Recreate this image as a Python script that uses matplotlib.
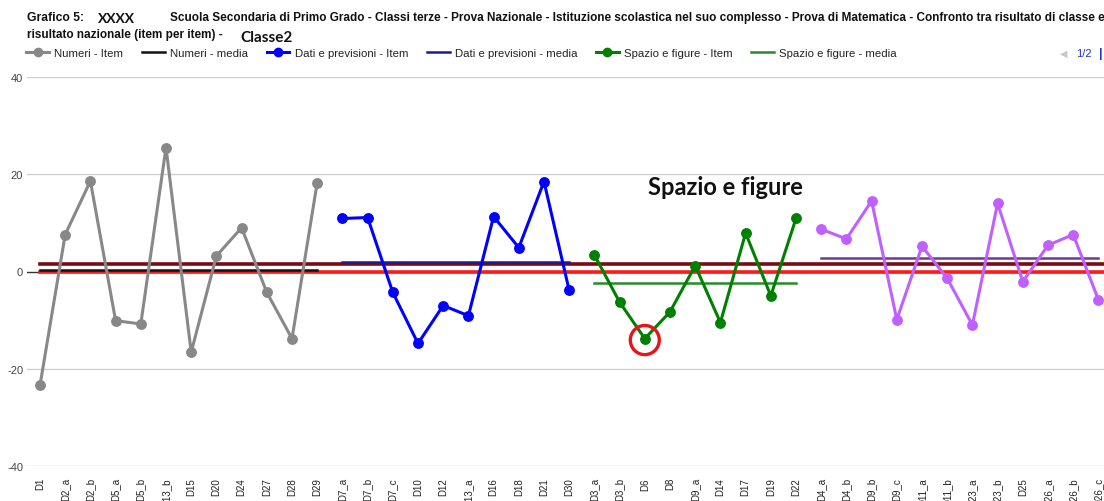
import matplotlib
matplotlib.use('Agg')
import matplotlib.pyplot as plt
from matplotlib.lines import Line2D
from matplotlib.patches import Ellipse
import numpy as np

# item per ambito
numeri_items = ['D1', 'D2_a', 'D2_b', 'D5_a', 'D5_b', 'D13_b', 'D15', 'D20', 'D24', 'D27', 'D28', 'D29']
numeri_values = [-23.4, 7.6, 18.6, -10.1, -10.8, 25.5, -16.6, 3.2, 9.0, -4.3, -13.8, 18.3]
numeri_media = 0.4

dati_items = ['D7_a', 'D7_b', 'D7_c', 'D10', 'D12', 'D13_a', 'D16', 'D18', 'D21', 'D30']
dati_values = [10.9, 11.1, -4.3, -14.8, -7.0, -9.1, 11.3, 4.9, 18.5, -3.9]
dati_media = 1.9

spazio_items = ['D3_a', 'D3_b', 'D6', 'D8', 'D9_a', 'D14', 'D17', 'D19', 'D22']
spazio_values = [3.4, -6.3, -13.8, -8.3, 1.2, -10.5, 7.9, -5.0, 10.9]
spazio_media = -2.3

relazioni_items = ['D4_a', 'D4_b', 'D9_b', 'D9_c', 'D11_a', 'D11_b', 'D23_a', 'D23_b', 'D25', 'D26_a', 'D26_b', 'D26_c']
relazioni_values = [8.7, 6.7, 14.5, -9.9, 5.2, -1.4, -11.0, 14.0, -2.1, 5.4, 7.6, -5.8]
relazioni_media = 2.7

media_scuola = 1.6
media_nazionale = 0.0

y_ticks = [-40, -20, 0, 20, 40]

groups = [
    ('Numeri', numeri_items, numeri_values, numeri_media, '#888888', '#111111'),
    ('Dati e previsioni', dati_items, dati_values, dati_media, '#0000ff', '#1c1c8c'),
    ('Spazio e figure', spazio_items, spazio_values, spazio_media, '#008000', '#2a8a2a'),
    ('Relazioni e funzioni', relazioni_items, relazioni_values, relazioni_media, '#c060ff', '#6a3a9a'),
]

plt.rcParams['font.family'] = ['Liberation Sans', 'DejaVu Sans']

fig = plt.figure(figsize=(11.04, 5.02), dpi=100)
ax = fig.add_axes([27.4 / 1104, 35 / 502, 1083.6 / 1104, 389 / 502])

all_items = numeri_items + dati_items + spazio_items + relazioni_items
n = len(all_items)

ax.set_xlim(-0.5, n - 0.5)
ax.set_ylim(-40, 40)
for yt in y_ticks:
    ax.axhline(yt, color='#333333' if yt == 0 else '#d0d0d0', lw=1, zorder=1)

ax.plot([0, n - 0.5], [media_scuola] * 2, color='#7a0a14', lw=2.6, zorder=3)
ax.plot([0, n - 0.5], [media_nazionale] * 2, color='#ff1a1a', lw=2.6, zorder=3)

handles = []
start = 0
for name, items, values, media, c_item, c_media in groups:
    x = np.arange(start, start + len(items))
    ax.plot(x, values, color=c_item, lw=2.2, marker='o', ms=6.8, zorder=4)
    ax.plot([x[0], x[-1]], [media, media], color=c_media, lw=1.8, zorder=3.5)
    if name != 'Relazioni e funzioni':
        handles.append(Line2D([], [], color=c_item, lw=2.2, marker='o', ms=6, label=f'{name} - Item'))
        handles.append(Line2D([], [], color=c_media, lw=1.8, label=f'{name} - media'))
    start += len(items)

# cerchio sul punto D6
i6 = all_items.index('D6')
ax.add_patch(Ellipse((i6, spazio_values[spazio_items.index('D6')] - 0.3), 1.15, 6.0,
                     fill=False, edgecolor='#e8141c', lw=2.4, zorder=6))
ax.text(27.2, 17.4, 'Spazio e figure', fontsize=17, fontweight='bold', family='Lato',
        ha='center', va='center', color='#111111', zorder=6)

ax.set_xticks(range(n))
ax.set_xticklabels(all_items, rotation=90, fontsize=7, color='#222222')
ax.set_yticks(y_ticks)
ax.set_yticklabels([str(v) for v in y_ticks], fontsize=8, color='#444444')
ax.tick_params(axis='x', length=0, pad=8)
ax.tick_params(axis='y', length=0, pad=3)
for s in ax.spines.values():
    s.set_visible(False)

leg = fig.legend(handles=handles, ncol=6, loc='center left', bbox_to_anchor=(16 / 1104, 1 - 54 / 502),
                 frameon=False, fontsize=8.2, handlelength=2.0, handletextpad=0.45, columnspacing=1.65,
                 labelcolor='#222222')

# titolo
fig.text(27 / 1104, 1 - 18 / 502, 'Grafico 5:', fontsize=8.7, fontweight='bold', va='center', color='#111111')
fig.text(98 / 1104, 1 - 19 / 502, 'XXXX', fontsize=10, fontweight='bold', family='Lato', va='center', color='#111111')
fig.text(170 / 1104, 1 - 18 / 502,
         'Scuola Secondaria di Primo Grado - Classi terze - Prova Nazionale - Istituzione scolastica nel suo complesso'
         ' - Prova di Matematica - Confronto tra risultato di classe e',
         fontsize=8.5, fontweight='bold', va='center', color='#111111')
fig.text(27 / 1104, 1 - 35 / 502, 'risultato nazionale (item per item) -', fontsize=8.5, fontweight='bold',
         va='center', color='#111111')
fig.text(240 / 1104, 1 - 38 / 502, 'Classe2', fontsize=11, fontweight='bold', family='Lato', va='center',
         color='#111111')
fig.text(1060 / 1104, 1 - 54 / 502, '\u25c0', fontsize=7, color='#c8c8c8', va='center')
fig.text(1076 / 1104, 1 - 54 / 502, '1/2', fontsize=8, color='#2233cc', va='center')
fig.text(1099 / 1104, 1 - 54 / 502, '|', fontsize=9, fontweight='bold', color='#2233cc', va='center')

fig.savefig('out.png', dpi=100)
